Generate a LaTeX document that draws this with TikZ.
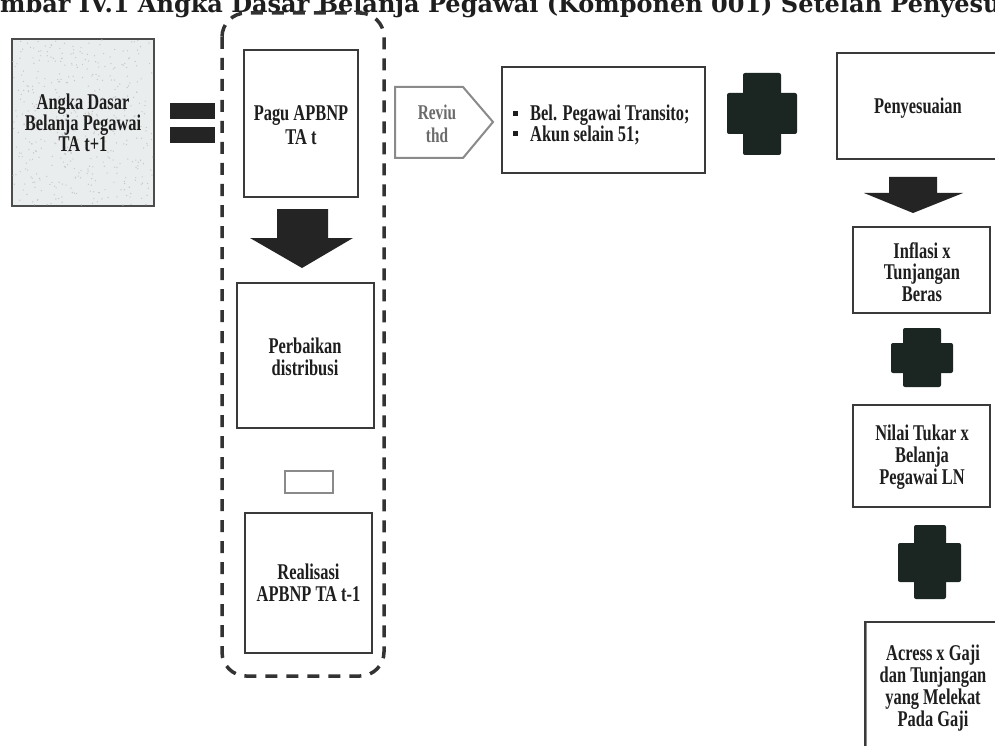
\documentclass[tikz,border=0pt]{standalone}
\usepackage{fontspec}
\setmainfont{Liberation Serif}[FakeStretch=0.73]
\newfontfamily\titlefont{DejaVu Serif}
\definecolor{bordc}{HTML}{3A3A3A}
\definecolor{txtc}{HTML}{1E1E1E}
\definecolor{plusc}{HTML}{1B2521}
\definecolor{arrc}{HTML}{242424}
\definecolor{lightbord}{HTML}{8A8A8A}
\definecolor{lighttxt}{HTML}{6B6B6B}
\definecolor{leftfill}{HTML}{EAEDEE}
\tikzset{
  box/.style={draw=bordc, line width=1.5, fill=white, inner sep=0},
  txt/.style={font=\bfseries\fontsize{22.5}{21.5}\selectfont, text=txtc, align=center},
  darkfill/.style={fill=plusc, rounded corners=2},
  arrfill/.style={fill=arrc},
}
\begin{document}
\begin{tikzpicture}[x=1pt,y=-1pt]
\useasboundingbox (0,0) rectangle (995,746);
\clip (0,0) rectangle (995,746);
\fill[white] (0,0) rectangle (995,746);
% title
\node[anchor=base west, inner sep=0, text=txtc, font=\titlefont\bfseries\fontsize{24}{24}\selectfont] (title) at (0,12.5) {\llap{Ga}mbar IV.1 Angka Dasar Belanja Pegawai (Komponen 001) Setelah Penyesuaian};
% left box
\node[box, draw=black!70, line width=2, fill=leftfill, minimum width=142, minimum height=167] (left) at (83,122.5) {};
\pgfmathsetseed{7}
\foreach \i in {1,...,450} {
  \fill[black!22] ({13+140*rnd},{40+165*rnd}) circle (0.7);
}
\node[txt, font=\bfseries\fontsize{22.5}{21}\selectfont] (lefttxt) at (83,123) {Angka Dasar\\Belanja Pegawai\\TA t+1};
% equals
\fill[arrfill] (170,103) rectangle (215,119);
\fill[arrfill] (170,127) rectangle (215,143);
% dashed group
\draw[draw=black!80, line width=3.5, dash pattern=on 12 off 9, rounded corners=24] (222,13) rectangle (384,676);
% pagu
\node[box, minimum width=114, minimum height=147] (pagu) at (301,123.5) {};
\node[txt, font=\bfseries\fontsize{22.5}{24}\selectfont] (pagutxt) at (301,125) {Pagu APBNP\\TA t};
% down arrow 1
\fill[arrfill] (277,209) -- (328,209) -- (328,238) -- (353,238) -- (302,268) -- (250,238) -- (277,238) -- cycle;
% perbaikan
\node[box, minimum width=137, minimum height=145] (perb) at (305.5,355.5) {};
\node[txt] (perbtxt) at (305,357) {Perbaikan\\distribusi};
% minus
\node[draw=lightbord, line width=1.6, fill=white, minimum width=48, minimum height=22, inner sep=0] (minus) at (309,482) {};
% realisasi
\node[box, minimum width=127, minimum height=140] (real) at (308.5,583) {};
\node[txt] (realtxt) at (308.5,583) {Realisasi\\APBNP TA t-1};
% reviu pentagon
\draw[draw=lightbord, line width=2, fill=white] (395,87) -- (463,87) -- (493,122) -- (463,158) -- (395,158) -- cycle;
\node[txt, text=lighttxt, font=\bfseries\fontsize{21}{23}\selectfont] (reviu) at (437,124) {Reviu\\thd};
% bel box
\node[box, minimum width=203, minimum height=106] (bel) at (603.5,120) {};
\fill[txtc] (513,111.5) rectangle (518,116.5);
\fill[txtc] (513,131.5) rectangle (518,136.5);
\node[txt, anchor=west, inner sep=0] (bel1) at (530,115) {Bel. Pegawai Transito;};
\node[txt, anchor=west, inner sep=0] (bel2) at (530,135) {Akun selain 51;};
% plus 1
\fill[darkfill] (743,73) rectangle (781,155);
\fill[darkfill] (727,93) rectangle (797,134);
% penyesuaian
\draw[draw=bordc, line width=1.5] (1010,53) -- (837,53) -- (837,159) -- (1010,159);
\node[txt] (peny) at (918,108) {Penyesuaian};
% down arrow 2
\fill[arrfill] (889,177) -- (937,177) -- (937,193) -- (963,193) -- (913,213) -- (864,193) -- (889,193) -- cycle;
% inflasi
\node[box, minimum width=137, minimum height=86] (infl) at (921.5,270) {};
\node[txt, font=\bfseries\fontsize{22.5}{21.5}\selectfont] (infltxt) at (922,272) {Inflasi x\\Tunjangan\\Beras};
% plus 2
\fill[darkfill] (903,328) rectangle (941,387);
\fill[darkfill] (891,343) rectangle (953,373);
% nilai tukar
\node[box, minimum width=137, minimum height=102] (nilai) at (921.5,456) {};
\node[txt, font=\bfseries\fontsize{22.5}{22}\selectfont] (nilaitxt) at (922,457) {Nilai Tukar x\\Belanja\\Pegawai LN};
% plus 3
\fill[darkfill] (914,525) rectangle (946,599);
\fill[darkfill] (898,543) rectangle (961,582);
% acress
\draw[draw=bordc, line width=1.5] (1010,622) -- (865,622) -- (865,760);
\draw[draw=lightbord, line width=1.5] (866.5,623) -- (866.5,760);
\node[txt, font=\bfseries\fontsize{22.5}{22}\selectfont] (acress) at (933,688) {Acress x Gaji\\dan Tunjangan\\yang Melekat\\Pada Gaji};
\end{tikzpicture}
\end{document}
